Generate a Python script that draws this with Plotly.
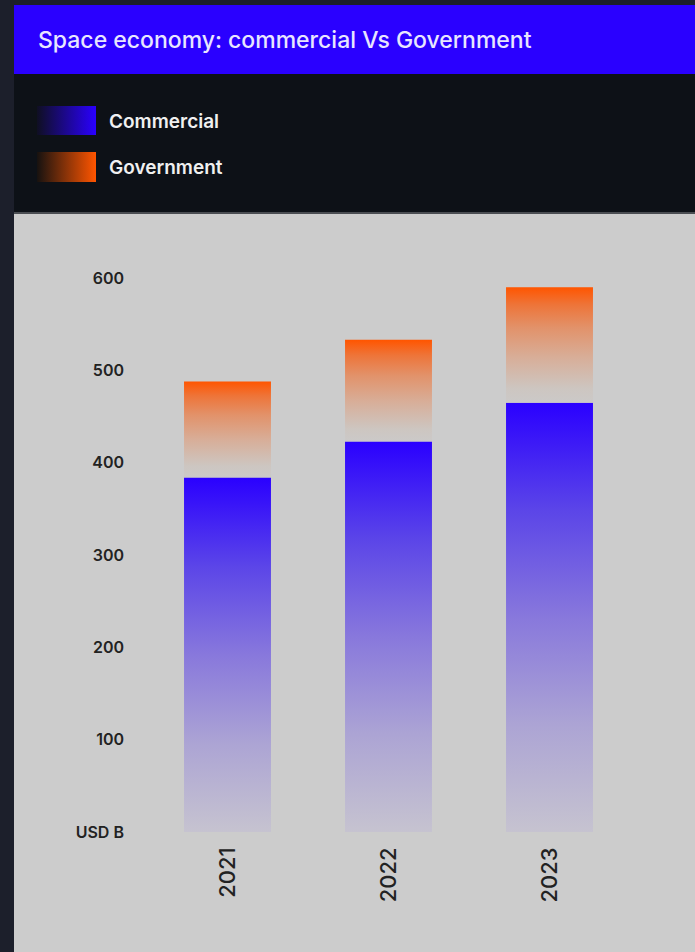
import base64
import plotly.graph_objects as go

# ---- data ----
years = ["2021", "2022", "2023"]
commercial = [384, 423, 465]
government = [104, 110, 125]
y_tick_vals = [0, 100, 200, 300, 400, 500, 600]
y_tick_text = ["USD B", "100", "200", "300", "400", "500", "600"]

W, H = 695, 952
BAR_W = 0.54

comm_scale = [[0.0, "#c6c3d0"], [0.25, "#aca4d4"], [0.5, "#8878dc"],
              [0.75, "#5b45e8"], [1.0, "#2a00ff"]]
gov_scale = [[0.0, "#cbc9c8"], [0.12, "#cdc6c1"], [0.4, "#d8ad97"],
             [0.65, "#e2926a"], [0.85, "#ee7438"], [1.0, "#ff5500"]]

fig = go.Figure()


def seg(xc, y0, y1, scale, name):
    xs = [xc - BAR_W / 2, xc + BAR_W / 2, xc + BAR_W / 2, xc - BAR_W / 2, xc - BAR_W / 2]
    ys = [y0, y0, y1, y1, y0]
    fig.add_trace(go.Scatter(
        x=xs, y=ys, mode="lines", fill="toself", line=dict(width=0),
        fillgradient=dict(type="vertical", colorscale=scale),
        name=name, showlegend=False, hoverinfo="skip"))


for i, yr in enumerate(years):
    seg(i, 0, commercial[i], comm_scale, "Commercial")
    seg(i, commercial[i], commercial[i] + government[i], gov_scale, "Government")


def px(x):
    return x / W


def py(y):
    return 1 - y / H


shapes = [
    dict(type="rect", xref="paper", yref="paper", x0=px(14), x1=1, y0=py(74), y1=py(5),
         fillcolor="#2a00ff", line=dict(width=0), layer="below"),
    dict(type="rect", xref="paper", yref="paper", x0=px(14), x1=1, y0=py(212), y1=py(74),
         fillcolor="#0d1117", line=dict(width=0), layer="below"),
    dict(type="rect", xref="paper", yref="paper", x0=px(14), x1=1, y0=py(214), y1=py(212),
         fillcolor="#4a4d52", line=dict(width=0), layer="below"),
    dict(type="rect", xref="paper", yref="paper", x0=px(14), x1=1, y0=0, y1=py(214),
         fillcolor="#cccccc", line=dict(width=0), layer="below"),
]


def grad_svg(c0, c1):
    svg = ('<svg xmlns="http://www.w3.org/2000/svg" width="60" height="30">'
           '<defs><linearGradient id="g" x1="0" y1="0" x2="1" y2="0">'
           f'<stop offset="0" stop-color="{c0}"/><stop offset="1" stop-color="{c1}"/>'
           '</linearGradient></defs><rect width="60" height="30" fill="url(#g)"/></svg>')
    return "data:image/svg+xml;base64," + base64.b64encode(svg.encode()).decode()


images = [
    dict(source=grad_svg("#0f0f22", "#2a00ff"), xref="paper", yref="paper",
         x=px(37), y=py(106), sizex=px(59), sizey=29 / H, xanchor="left", yanchor="top",
         sizing="stretch", layer="above"),
    dict(source=grad_svg("#161210", "#ff5500"), xref="paper", yref="paper",
         x=px(37), y=py(152), sizex=px(59), sizey=30 / H, xanchor="left", yanchor="top",
         sizing="stretch", layer="above"),
]

FONT = "Inter"
annotations = [
    dict(text="Space economy: commercial Vs Government", xref="paper", yref="paper",
         x=px(36), y=py(40), xanchor="left", yanchor="middle", showarrow=False,
         font=dict(family=FONT, size=23, color="#e8e6ff", weight=500)),
    dict(text="Commercial", xref="paper", yref="paper", x=px(107), y=py(121),
         xanchor="left", yanchor="middle", showarrow=False,
         font=dict(family=FONT, size=19, color="#f0f0f0", weight=600)),
    dict(text="Government", xref="paper", yref="paper", x=px(107), y=py(167),
         xanchor="left", yanchor="middle", showarrow=False,
         font=dict(family=FONT, size=19, color="#f0f0f0", weight=600)),
]

plot_left, plot_right = 125, 690
x_px_per_unit = 161
x_min = -(227.5 - plot_left) / x_px_per_unit
x_max = x_min + (plot_right - plot_left) / x_px_per_unit

plot_top, plot_bottom, zero_px = 240, 842, 832
y_px_per_unit = (832 - 278) / 600
y_min = -(plot_bottom - zero_px) / y_px_per_unit
y_max = (zero_px - plot_top) / y_px_per_unit

fig.update_layout(
    width=W, height=H,
    margin=dict(l=0, r=0, t=0, b=0),
    paper_bgcolor="#1c1f2b",
    plot_bgcolor="rgba(0,0,0,0)",
    showlegend=False,
    shapes=shapes, images=images, annotations=annotations,
    xaxis=dict(domain=[px(plot_left), px(plot_right)], range=[x_min, x_max],
               tickvals=list(range(len(years))), ticktext=years, tickangle=-90,
               showgrid=False, zeroline=False, showline=False, ticks="",
               tickfont=dict(family=FONT, size=22, color="#222222", weight=500),
               fixedrange=True),
    yaxis=dict(domain=[py(plot_bottom), py(plot_top)], range=[y_min, y_max],
               tickvals=y_tick_vals, ticktext=y_tick_text,
               showgrid=False, zeroline=False, showline=False, ticks="",
               tickfont=dict(family=FONT, size=16, color="#222222", weight=600),
               fixedrange=True),
)

fig.write_html(
    "out.html",
    config={"displayModeBar": False},
    post_script="document.body.style.margin='0';document.body.style.background='#1c1f2b';",
)
